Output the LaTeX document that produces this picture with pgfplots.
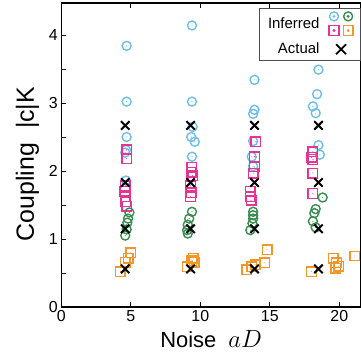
\documentclass[border=0pt]{standalone}
\usepackage{fontspec}
\setmainfont{Liberation Sans}
\usepackage{pgfplots}
\pgfplotsset{compat=1.18}
\definecolor{cblue}{RGB}{110,190,235}
\definecolor{cpink}{RGB}{232,50,150}
\definecolor{cgreen}{RGB}{55,140,80}
\definecolor{corange}{RGB}{245,150,40}
\pgfdeclareplotmark{odot}{%
  \pgfpathcircle{\pgfpointorigin}{\pgfplotmarksize}\pgfusepathqstroke
  \pgfpathcircle{\pgfpointorigin}{0.6pt}\pgfusepathqfill}
\pgfdeclareplotmark{sqdot}{%
  \pgfpathrectangle{\pgfpoint{-\pgfplotmarksize}{-\pgfplotmarksize}}{\pgfpoint{2\pgfplotmarksize}{2\pgfplotmarksize}}\pgfusepathqstroke
  \pgfpathcircle{\pgfpointorigin}{0.6pt}\pgfusepathqfill}
\begin{document}
\begin{tikzpicture}
\begin{axis}[
  scale only axis,
  width=299.7bp, height=304bp,
  xmin=0, xmax=21.56, ymin=0, ymax=4.47,
  xtick={0,5,10,15,20},
  ytick={0,1,2,3,4},
  minor ytick={0.5,1.5,2.5,3.5},
  xtick pos=both, ytick pos=left,
  tick align=inside,
  major tick length=5bp, minor tick length=5bp,
  every tick/.style={black, line width=0.9pt},
  axis line style={line width=1.2pt},
  /pgf/number format/assume math mode=true,
  tick label style={font=\fontsize{16}{18}\selectfont},
  label style={font=\fontsize{22}{24}\selectfont},
  xlabel={Noise\ \ {\fontsize{30}{30}\selectfont$aD$}},
  ylabel={\fontsize{25}{26}\selectfont Coupling\ \ |c|K},
  xlabel style={yshift=-2bp},
  ylabel style={yshift=3bp, xshift=-9bp},
  legend style={at={(rel axis cs:1,0.984)}, anchor=north east,
    draw=black!70, line width=0.7pt,
    font=\fontsize{15}{17}\selectfont,
    legend cell align=right, inner xsep=7pt, inner ysep=3pt,
    row sep=5pt, column sep=7pt},
  legend plot pos=right,
]
\addplot[only marks, color=cblue, mark=odot, mark size=4.5pt, line width=1.4pt,
  legend image code/.code={
    \draw[cblue, line width=1.4pt] (0.3cm,0.25cm) circle[radius=4.5pt];
    \fill[cblue] (0.3cm,0.25cm) circle[radius=0.6pt];
    \draw[cgreen, line width=1.4pt] (0.8cm,0.25cm) circle[radius=4.5pt];
    \fill[cgreen] (0.8cm,0.25cm) circle[radius=0.6pt];
    \draw[cpink, line width=1.4pt] (0.13cm,-0.42cm) rectangle (0.47cm,-0.08cm);
    \fill[cpink] (0.3cm,-0.25cm) circle[radius=0.6pt];
    \draw[corange, line width=1.4pt] (0.63cm,-0.42cm) rectangle (0.97cm,-0.08cm);
    \fill[corange] (0.8cm,-0.25cm) circle[radius=0.6pt];
  }] coordinates {
  (4.7,3.84)(4.7,3.02)(4.7,2.50)(4.65,2.31)(4.6,2.27)(4.65,1.86)
  (9.4,4.14)(9.4,3.02)(9.45,2.65)(9.35,2.50)(9.6,2.43)(9.4,2.21)
  (13.9,3.34)(13.9,2.90)(13.8,2.84)(13.8,2.44)(13.7,2.21)(13.8,2.07)
  (18.5,3.49)(18.4,3.13)(18.1,2.95)(18.3,2.85)(18.5,2.38)(18.6,2.24)
};
\addlegendentry{Inferred}
\addplot[forget plot, only marks, color=cpink, mark=sqdot, mark size=4.8pt, line width=1.4pt] coordinates {
  (4.7,2.31)(4.7,2.18)(4.6,1.78)(4.55,1.70)(4.6,1.62)(4.65,1.55)(4.7,1.48)
  (9.4,2.05)(9.35,1.98)(9.45,1.93)(9.3,1.78)(9.35,1.68)(9.3,1.62)
  (14.0,2.43)(13.9,2.21)(13.9,2.06)(13.8,1.97)(13.6,1.70)(13.6,1.62)(13.65,1.57)
  (18.1,2.28)(18.0,2.20)(18.1,2.17)(18.1,1.97)(18.1,1.67)
};
\addplot[forget plot, only marks, color=cgreen, mark=odot, mark size=4.5pt, line width=1.4pt] coordinates {
  (4.9,1.39)(4.8,1.30)(4.75,1.24)(4.7,1.14)(4.6,1.05)
  (9.4,1.40)(9.2,1.30)(9.1,1.21)(9.05,1.13)(9.1,1.08)
  (13.8,1.40)(13.8,1.35)(13.8,1.30)(13.75,1.23)(13.6,1.13)
  (18.8,1.61)(18.3,1.44)(18.2,1.38)(18.1,1.26)(18.3,1.17)
};
\addplot[forget plot, only marks, color=corange, mark=sqdot, mark size=4.8pt, line width=1.4pt] coordinates {
  (5.0,0.80)(4.8,0.72)(4.6,0.66)(4.25,0.52)
  (9.5,0.72)(9.4,0.68)(9.55,0.66)(9.05,0.59)
  (14.8,0.84)(14.65,0.65)(13.95,0.62)(13.7,0.59)(13.35,0.55)
  (18.0,0.52)(19.55,0.72)(19.8,0.65)(19.95,0.60)(19.75,0.57)(21.1,0.75)
};
\addplot[only marks, color=black, mark=x, mark size=6pt, line width=2pt,
  legend image code/.code={
    \draw[black, line width=1.8pt] (0.55cm-5pt,-5pt) -- (0.55cm+5pt,5pt);
    \draw[black, line width=1.8pt] (0.55cm-5pt,5pt) -- (0.55cm+5pt,-5pt);
  }] coordinates {
  (4.6,2.67)(4.6,1.83)(4.6,1.15)(4.6,0.56)
  (9.3,2.67)(9.3,1.83)(9.3,1.15)(9.3,0.56)
  (13.9,2.67)(13.9,1.83)(13.9,1.15)(13.9,0.56)
  (18.5,2.67)(18.5,1.83)(18.5,1.15)(18.5,0.56)
};
\addlegendentry{Actual}
\end{axis}
\pgfresetboundingbox
\useasboundingbox (-61.3bp,-51bp) rectangle (299.7bp,307bp);
\end{tikzpicture}
\end{document}
